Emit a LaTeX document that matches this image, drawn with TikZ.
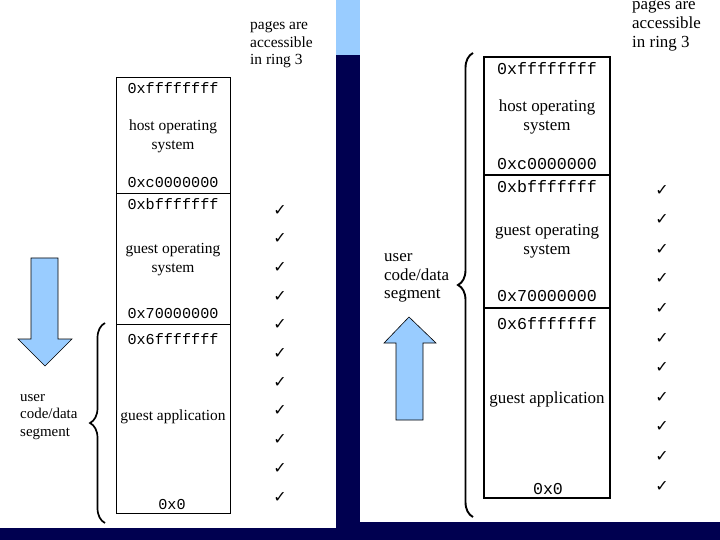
\documentclass[tikz,border=0pt]{standalone}
\usepackage{fontspec}
\setmainfont{Liberation Serif}
\setmonofont{Liberation Mono}
\newfontfamily\tickfont{DejaVu Sans}
\usepackage{tikz}
\usetikzlibrary{decorations.pathreplacing}
\definecolor{navy}{RGB}{0,0,80}
\definecolor{skyblue}{RGB}{153,204,255}

\begin{document}
\begin{tikzpicture}[x=1bp,y=-1bp,
    seg/.style={draw,line width=1pt},
    hexl/.style={anchor=base,font=\ttfamily\fontsize{15.2}{18}\selectfont},
    txtl/.style={anchor=base,font=\fontsize{15.5}{18}\selectfont},
    hexr/.style={anchor=base,font=\ttfamily\fontsize{16.7}{19}\selectfont},
    txtr/.style={anchor=base,font=\fontsize{17}{19}\selectfont},
    side/.style={align=left,anchor=west,inner sep=0pt},
    tick/.style={font=\tickfont\fontsize{16}{16}\selectfont},
    bigarrow/.style={fill=skyblue,draw=black,line width=0.6pt},
    curly/.style={decorate,decoration={brace,amplitude=15bp},line width=1.7pt}]

        \useasboundingbox (0,0) rectangle (720,540);
        \fill[white] (0,0) rectangle (720,540);

        % slide frame
        \fill[skyblue] (336,0) rectangle (360,55);
        \fill[navy] (336,55) rectangle (360,540);
        \fill[navy] (0,528) rectangle (336,540);
        \fill[navy] (360,522) rectangle (720,540);

        % left memory map
        \draw[seg] (116,78) rectangle (230,193);
        \draw[seg] (116,193) rectangle (230,324);
        \draw[seg] (116,324) rectangle (230,513);
        \node[hexl] (lffff) at (173,94) {0xffffffff};
        \node[txtl] (lhost) at (173,131) {host operating};
        \node[txtl] (lhosts) at (173,150) {system};
        \node[hexl] (lc000) at (173,188) {0xc0000000};
        \node[hexl] (lbfff) at (173,210) {0xbfffffff};
        \node[txtl] (lguest) at (173,254) {guest operating};
        \node[txtl] (lguests) at (173,273) {system};
        \node[hexl] (l7000) at (173,318) {0x70000000};
        \node[hexl] (l6fff) at (173,344) {0x6fffffff};
        \node[txtl] (lapp) at (173,420) {guest application};
        \node[hexl] (lzero) at (172,509) {0x0};

        \node[side,font=\fontsize{15.5}{17.5}\selectfont] (lpages) at (250,45)
            {pages are\\accessible\\in ring 3};
        \foreach \i in {0,...,10}
            \node[tick] (ltick\i) at (280,210+28.7*\i) {✓};

        % user segment, grows down
        \draw[curly] (105,523) -- (105,323);
        \node[side,font=\fontsize{15}{17.5}\selectfont] (luser) at (20,417)
            {user\\code/data\\segment};
        \draw[bigarrow] (31,258) -- (58,258) -- (58,339) -- (72,339) -- (45,366)
            -- (18,339) -- (31,339) -- cycle;

        % right memory map
        \draw[seg,line width=1.3pt] (484,57) rectangle (610,175);
        \draw[seg,line width=1.3pt] (484,175) rectangle (610,308);
        \draw[seg,line width=1.3pt] (484,308) rectangle (610,498);
        \node[hexr] (rffff) at (547,75) {0xffffffff};
        \node[txtr] (rhost) at (547,112) {host operating};
        \node[txtr] (rhosts) at (547,131) {system};
        \node[hexr] (rc000) at (547,170) {0xc0000000};
        \node[hexr] (rbfff) at (547,193) {0xbfffffff};
        \node[txtr] (rguest) at (547,236) {guest operating};
        \node[txtr] (rguests) at (547,255) {system};
        \node[hexr] (r7000) at (547,301) {0x70000000};
        \node[hexr] (r6fff) at (547,329) {0x6fffffff};
        \node[txtr] (rapp) at (547,403) {guest application};
        \node[hexr] (rzero) at (548,494) {0x0};

        \node[side,font=\fontsize{17}{19.5}\selectfont] (rpages) at (632,26)
            {pages are\\accessible\\in ring 3};
        \foreach \i in {0,...,10}
            \node[tick] (rtick\i) at (662,190+29.6*\i) {✓};

        % user segment, grows up
        \draw[curly,line width=1.9pt] (473,517) -- (473,53);
        \node[side,font=\fontsize{17}{18.5}\selectfont] (ruser) at (384,278)
            {user\\code/data\\segment};
        \draw[bigarrow] (396,420) -- (423,420) -- (423,343) -- (436,343) -- (409,317)
            -- (384,343) -- (396,343) -- cycle;

\end{tikzpicture}
\end{document}
